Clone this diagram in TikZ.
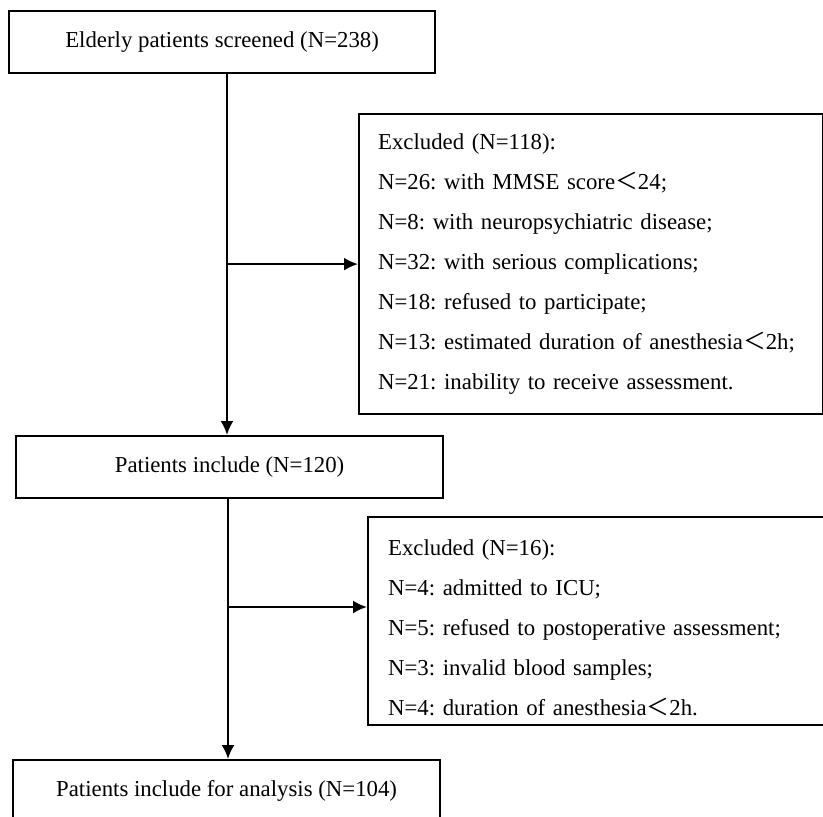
\documentclass[tikz,border=0pt]{standalone}
\usepackage{fontspec}
\setmainfont{Liberation Serif}
\newfontfamily\cjk{Noto Sans CJK SC}
\newcommand{\lessmark}{{\cjk ＜}}
\usetikzlibrary{arrows.meta}

\tikzset{
	flowbox/.style={draw, line width=1.1pt, anchor=north west, inner sep=0pt,
		font=\fontsize{11.4}{20}\selectfont\frenchspacing},
	listbox/.style={flowbox, align=left, inner xsep=9.5pt}
}

\begin{document}
\begin{tikzpicture}[x=0.5pt,y=-0.5pt]
\useasboundingbox (0,0) rectangle (823,817);

%main boxes
\node [flowbox, minimum width=213pt, minimum height=31pt] (screened) at (8,10) {Elderly patients screened (N=238)};
\node [flowbox, minimum width=213.5pt, minimum height=31pt] (include) at (15,435) {Patients include (N=120)};
\node [flowbox, minimum width=213.5pt, minimum height=31pt] (analysis) at (12,759) {Patients include for analysis (N=104)};

%exclusion boxes
\node [listbox, text width=213pt, minimum height=150pt] (excl1) at (358,113) {Excluded (N=118):\\
	N=26: with MMSE score\lessmark 24;\\
	N=8: with neuropsychiatric disease;\\
	N=32: with serious complications;\\
	N=18: refused to participate;\\
	N=13: estimated duration of anesthesia\lessmark 2h;\\
	N=21: inability to receive assessment.};
\node [listbox, inner xsep=10pt, text width=215pt, minimum height=104pt] (excl2) at (367,516) {\rule{0pt}{15pt}Excluded (N=16):\\
	N=4: admitted to ICU;\\
	N=5: refused to postoperative assessment;\\
	N=3: invalid blood samples;\\
	N=4: duration of anesthesia\lessmark 2h.};

%arrows
\coordinate (trunk) at (227,0);
\coordinate (split2) at (228,607);
\begin{scope}[>={Latex[length=7pt,width=6.5pt]}, line width=1.1pt]
	\draw [->] (screened.south -| trunk) -- (include.north -| trunk);
	\draw [->] (excl1.west -| trunk) -- (excl1.west);
	\draw [->] (include.south -| split2) -- (analysis.north -| split2);
	\draw [->] (split2) -- (split2 -| excl2.west);
\end{scope}
\end{tikzpicture}
\end{document}
